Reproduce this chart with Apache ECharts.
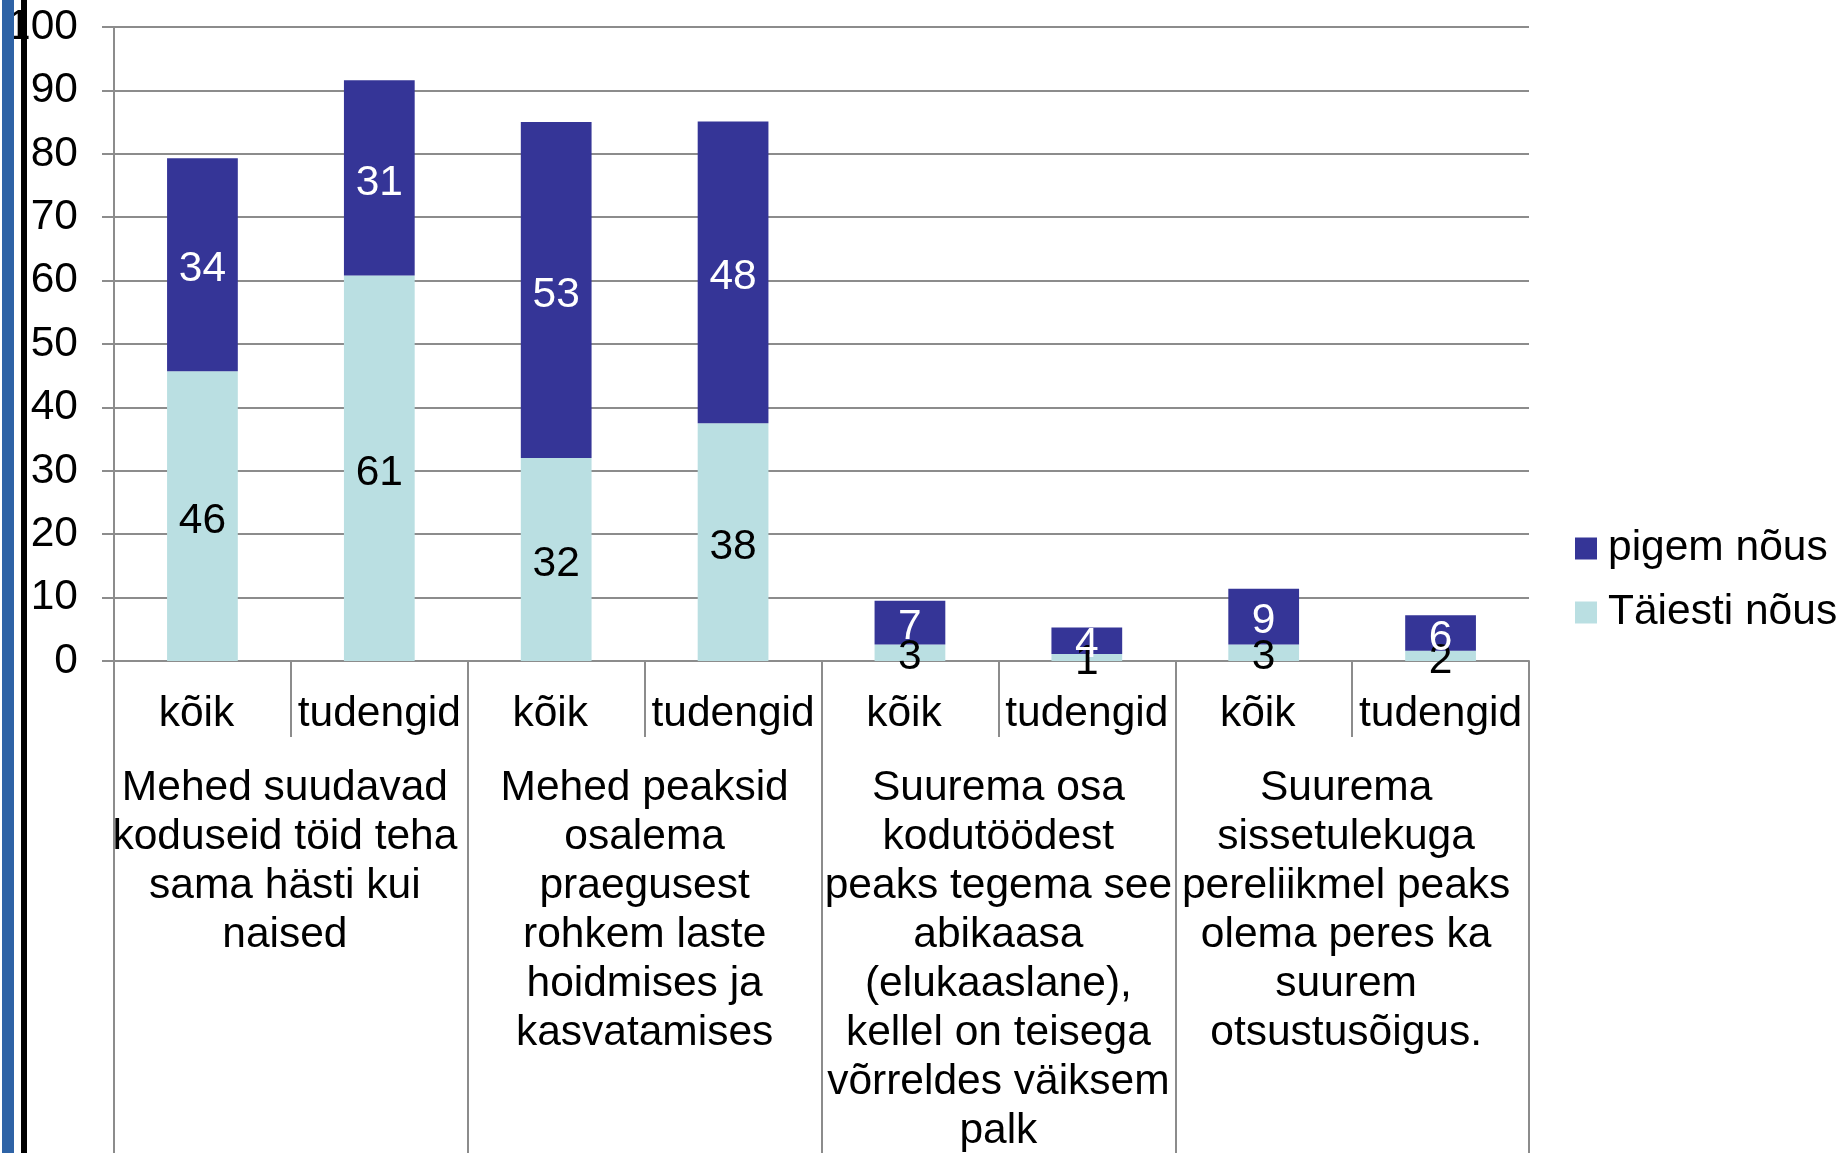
<!DOCTYPE html>
<html>
<head>
<meta charset="utf-8">
<script src="https://cdn.jsdelivr.net/npm/echarts@6/dist/echarts.min.js"></script>
<style>
  html, body { margin: 0; padding: 0; background: #fff; }
  #chart { width: 1841px; height: 1153px; }
</style>
</head>
<body>
<div id="chart"></div>
<script>
// groups and sub categories
var groupNames = [
  'Mehed suudavad\nkoduseid töid teha\nsama hästi kui\nnaised',
  'Mehed peaksid\nosalema\npraegusest\nrohkem laste\nhoidmises ja\nkasvatamises',
  'Suurema osa\nkodutöödest\npeaks tegema see\nabikaasa\n(elukaaslane),\nkellel on teisega\nvõrreldes väiksem\npalk',
  'Suurema\nsissetulekuga\npereliikmel peaks\nolema peres ka\nsuurem\notsustusõigus.'
]
var subNames = ['kõik', 'tudengid', 'kõik', 'tudengid', 'kõik', 'tudengid', 'kõik', 'tudengid']

// percentages (labels show rounded values)
var taiestiNous = [45.7, 60.8, 32.0, 37.5, 2.6, 1.1, 2.6, 1.6]
var pigemNous = [33.6, 30.8, 53.0, 47.6, 6.9, 4.2, 8.8, 5.6]

var yTicks = { min: 0, max: 100, interval: 10 }

var font = '"Liberation Sans", Arial, sans-serif'
var fs = 42.5
var gridColor = '#8c8c8c'

// the source labels carry a trailing space, which pushes them a bit left
var shiftLeft = { padding: [0, 12, 0, 0] }
var subData = subNames.map(function (s) {
  return s === 'kõik' ? { value: s, textStyle: shiftLeft } : s
})
var groupData = groupNames.map(function (s, i) {
  return (i === 0 || i === 3) ? { value: s, textStyle: shiftLeft } : s
})

var chart = echarts.init(document.getElementById('chart'))

chart.setOption({
  animation: false,
  color: ['#353597', '#badfe2'],
  textStyle: { fontFamily: font },
  grid: {
    left: 114,
    right: 312,
    top: 27,
    bottom: 492,
    containLabel: false,
    outerBoundsMode: 'none'
  },
  legend: {
    data: ['pigem nõus', 'Täiesti nõus'],
    orient: 'vertical',
    left: 1575,
    top: 527,
    padding: 0,
    icon: 'rect',
    itemWidth: 22,
    itemHeight: 22,
    itemGap: 21,
    textStyle: {
      fontFamily: font,
      fontSize: fs,
      color: '#000',
      padding: [0, 0, 0, 6]
    }
  },
  xAxis: [
    {
      type: 'category',
      position: 'bottom',
      data: subData,
      axisLine: { show: true, lineStyle: { color: gridColor, width: 2 } },
      axisTick: { show: true, interval: 0, length: 76, lineStyle: { color: gridColor, width: 2 } },
      axisLabel: {
        interval: 0,
        margin: 32,
        fontFamily: font,
        fontSize: fs,
        color: '#000'
      }
    },
    {
      type: 'category',
      position: 'bottom',
      data: groupData,
      axisLine: { show: false },
      axisTick: { show: true, interval: 0, length: 492, lineStyle: { color: gridColor, width: 2 } },
      axisLabel: {
        interval: 0,
        margin: 103,
        fontFamily: font,
        fontSize: fs,
        lineHeight: 49,
        color: '#000',
        align: 'center'
      }
    }
  ],
  yAxis: {
    type: 'value',
    min: yTicks.min,
    max: yTicks.max,
    interval: yTicks.interval,
    axisLine: { show: true, lineStyle: { color: gridColor, width: 2 } },
    axisTick: { show: true, length: 12, lineStyle: { color: gridColor, width: 2 } },
    splitLine: { show: true, lineStyle: { color: gridColor, width: 2 } },
    axisLabel: {
      margin: 36,
      fontFamily: font,
      fontSize: fs,
      color: '#000',
      padding: [6, 0, 0, 0]
    }
  },
  series: [
    {
      name: 'Täiesti nõus',
      type: 'bar',
      stack: 'total',
      barWidth: '40%',
      data: taiestiNous,
      itemStyle: { color: '#badfe2' },
      label: {
        show: true,
        position: 'inside',
        offset: [0, 5],
        fontFamily: font,
        fontSize: fs,
        color: '#000',
        formatter: function (p) { return Math.round(p.value) }
      }
    },
    {
      name: 'pigem nõus',
      type: 'bar',
      stack: 'total',
      barWidth: '40%',
      data: pigemNous,
      itemStyle: { color: '#353597' },
      label: {
        show: true,
        position: 'inside',
        offset: [0, 5],
        fontFamily: font,
        fontSize: fs,
        color: '#fff',
        formatter: function (p) { return Math.round(p.value) }
      }
    }
  ],
  graphic: [
    // slide decoration on the left edge
    { type: 'rect', left: 2, top: 0, shape: { width: 12, height: 1153 }, style: { fill: '#2e63a6' }, z: 100 },
    { type: 'rect', left: 21, top: 0, shape: { width: 6, height: 1153 }, style: { fill: '#000' }, z: 100 }
  ]
})
</script>
</body>
</html>
